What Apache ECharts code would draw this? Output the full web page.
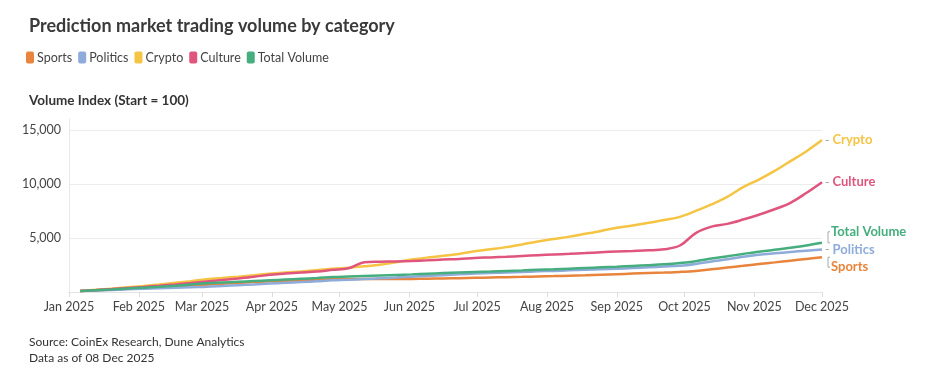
<!DOCTYPE html>
<html><head><meta charset="utf-8">
<script src="https://cdn.jsdelivr.net/npm/echarts@6/dist/echarts.min.js"></script>
<style>html,body{margin:0;padding:0;background:#fff}#c{width:941px;height:383px}</style>
</head><body><div id="c"></div><script>
const dates = ['2025-01-06','2025-01-13','2025-01-20','2025-01-27','2025-02-03','2025-02-10','2025-02-17','2025-02-24',
'2025-03-03','2025-03-10','2025-03-17','2025-03-24','2025-03-31','2025-04-07','2025-04-14','2025-04-21','2025-04-28',
'2025-05-05','2025-05-12','2025-05-19','2025-05-26','2025-06-02','2025-06-09','2025-06-16','2025-06-23','2025-06-30',
'2025-07-07','2025-07-14','2025-07-21','2025-07-28','2025-08-04','2025-08-11','2025-08-18','2025-08-25',
'2025-09-01','2025-09-08','2025-09-15','2025-09-22','2025-09-29','2025-10-06','2025-10-13','2025-10-20','2025-10-27',
'2025-11-03','2025-11-10','2025-11-17','2025-11-24','2025-12-01'];
const sports = [100,160,230,300,370,440,520,600,680,760,840,920,990,1040,1090,1140,1190,1200,1210,1210,1200,1210,1230,1260,1280,1310,1340,1370,1400,1440,1470,1510,1550,1600,1650,1700,1750,1800,1860,1950,2100,2260,2420,2590,2740,2900,3060,3220];
const politics = [100,140,190,250,310,350,400,450,490,560,630,700,780,850,920,1000,1080,1130,1200,1270,1340,1420,1490,1560,1630,1700,1750,1800,1850,1910,1950,2000,2050,2100,2150,2210,2280,2350,2430,2600,2820,3020,3250,3450,3580,3700,3820,3940];
const crypto = [100,200,300,430,560,700,850,1000,1170,1300,1420,1550,1690,1800,1900,2020,2150,2250,2380,2530,2750,3000,3180,3350,3520,3760,3950,4150,4400,4680,4900,5120,5380,5650,5950,6150,6400,6650,6950,7500,8100,8800,9700,10400,11200,12100,13000,14050];
const culture = [100,180,270,370,470,580,700,830,980,1120,1250,1400,1600,1700,1800,1900,2050,2200,2750,2800,2830,2870,2930,3000,3050,3150,3200,3260,3330,3400,3470,3530,3600,3680,3750,3800,3850,3950,4300,5450,6050,6300,6700,7150,7650,8250,9150,10150];
const total = [100,170,240,320,400,480,580,690,800,870,940,1010,1080,1150,1220,1290,1380,1430,1480,1530,1580,1630,1690,1750,1810,1860,1900,1950,2000,2060,2100,2160,2220,2280,2340,2410,2480,2560,2680,2850,3100,3300,3520,3730,3900,4100,4300,4550];
const monthTicks = ['2025-01-01','2025-02-01','2025-03-01','2025-04-01','2025-05-01','2025-06-01',
'2025-07-01','2025-08-01','2025-09-01','2025-10-01','2025-11-01','2025-12-01'];
const monthLabels = ['Jan 2025','Feb 2025','Mar 2025','Apr 2025','May 2025','Jun 2025',
'Jul 2025','Aug 2025','Sep 2025','Oct 2025','Nov 2025','Dec 2025'];
const yTicks = [0, 5000, 10000, 15000];
const seriesNames = ['Sports','Politics','Crypto','Culture','Total Volume'];
const colors = ['#E8843B','#8EABDA','#F6C443','#E0557D','#45AD7E'];

const FONT = 'Lato';
const chart = echarts.init(document.getElementById('c'), null, {renderer:'canvas'});
const values = [sports, politics, crypto, culture, total];
const endOffsets = {'Total Volume':[6,-11], 'Sports':[6,10]};
const toTime = s => Date.UTC(+s.slice(0,4), +s.slice(5,7) - 1, +s.slice(8,10));
const tickTimes = monthTicks.map(toTime);

const series = seriesNames.map((name, i) => ({
  name, type:'line', symbol:'none', smooth:0.35,
  data: dates.map((d, j) => [toTime(d), values[i][j]]),
  lineStyle:{width:2.5, color:colors[i]},
  itemStyle:{color:colors[i]},
  z: name === 'Total Volume' ? 3 : 2,
  endLabel:{
    show:true,
    distance:3,
    offset: endOffsets[name] || [0,0],
    formatter: endOffsets[name] ? '{n|' + name + '}' : '{d|- }{n|' + name + '}',
    rich:{
      d:{color:'#999', fontSize:12, fontFamily:FONT},
      n:{color:colors[i], fontSize:13, fontWeight:'bold', fontFamily:FONT}
    }
  }
}));

chart.setOption({
  animation:false,
  textStyle:{fontFamily:FONT},
  color: colors,
  title:[
    {text:'Prediction market trading volume by category', left:24, top:12,
     textStyle:{fontSize:18, fontWeight:'bold', color:'#3a3a3a', fontFamily:FONT}},
    {text:'Volume Index (Start = 100)', left:24, top:89,
     textStyle:{fontSize:13.5, fontWeight:'bold', color:'#333', fontFamily:FONT}},
    {text:'Source: CoinEx Research, Dune Analytics', left:24, top:331,
     textStyle:{fontSize:12, fontWeight:'normal', color:'#333', fontFamily:FONT}},
    {text:'Data as of 08 Dec 2025', left:24, top:347,
     textStyle:{fontSize:12, fontWeight:'normal', color:'#333', fontFamily:FONT}}
  ],
  legend:{
    left:21, top:46, icon:'roundRect', itemWidth:8, itemHeight:12, itemGap:6,
    textStyle:{fontSize:12.5, color:'#444', fontFamily:FONT, padding:[0,0,0,-2]},
    data: seriesNames
  },
  grid:{left:69, right:119, top:119, bottom:91, containLabel:false},
  xAxis:{
    type:'value', min:tickTimes[0], max:tickTimes[tickTimes.length-1],
    axisLine:{show:true, lineStyle:{color:'#e3e3e3', width:1}},
    axisTick:{show:true, length:5, lineStyle:{color:'#dddddd'}, customValues: tickTimes},
    splitLine:{show:false},
    axisLabel:{
      color:'#444', fontSize:12.5, margin:8, fontFamily:FONT, hideOverlap:false,
      customValues: tickTimes,
      formatter:(v) => { const k = tickTimes.indexOf(v); return k >= 0 ? monthLabels[k] : ''; }
    }
  },
  yAxis:{
    type:'value', min:0, max:16000, interval:5000,
    axisLine:{show:true, lineStyle:{color:'#e8e8e8'}},
    axisTick:{show:false},
    splitLine:{show:true, showMaxLine:false, lineStyle:{color:'#ececec', width:1}},
    axisLabel:{
      color:'#444', fontSize:12.5, margin:8, fontFamily:FONT, showMaxLabel:false,
      formatter:(v) => (yTicks.indexOf(v) > 0 ? v.toLocaleString('en-US') : '')
    }
  },
  series
});

// label connector brackets for shifted end labels, positioned through the axes
const last = dates.length - 1;
const brackets = [];
['Total Volume','Sports'].forEach(name => {
  const idx = seriesNames.indexOf(name);
  const p = chart.convertToPixel({xAxisIndex:0, yAxisIndex:0}, [toTime(dates[last]), values[idx][last]]);
  const ly = p[1] + endOffsets[name][1];
  const bx = p[0] + 6;
  brackets.push({
    type:'polyline', silent:true,
    shape:{points:[[bx+2, p[1]],[bx, p[1]],[bx, ly],[bx+2, ly]]},
    style:{stroke:'#aaa', lineWidth:1, fill:null}
  });
});
chart.setOption({graphic: brackets});
</script></body></html>
